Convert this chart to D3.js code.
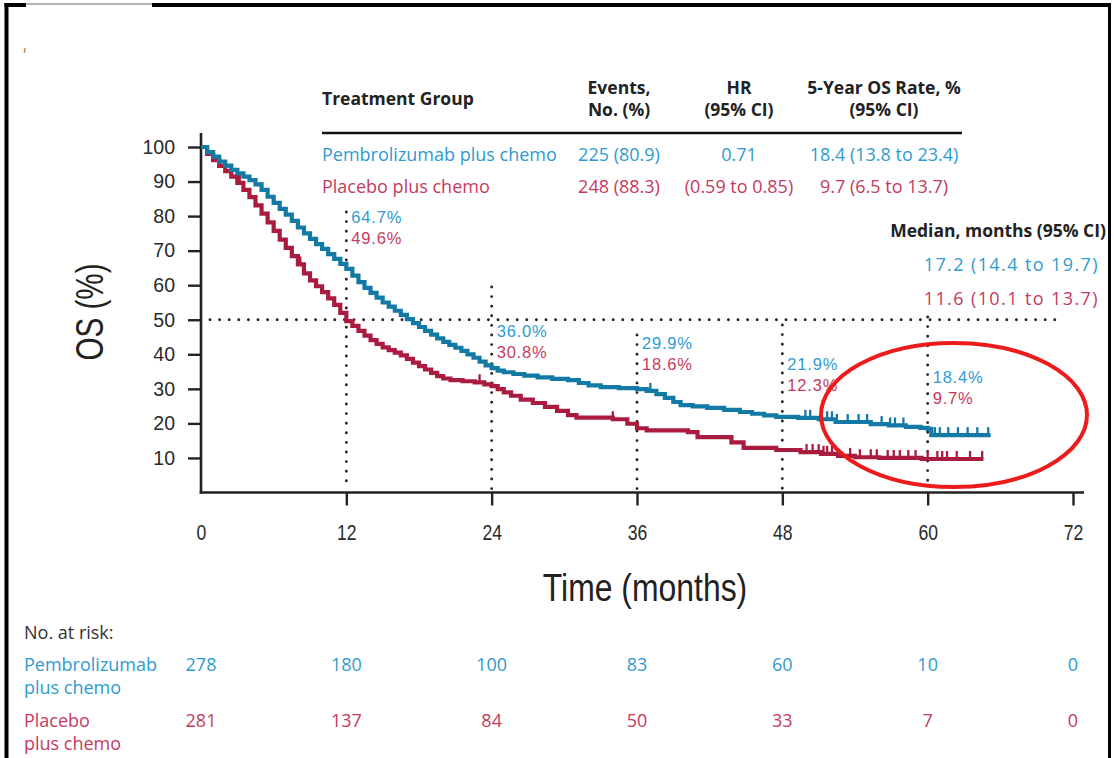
<!DOCTYPE html>
<html>
<head>
<meta charset="utf-8">
<script src="https://cdn.jsdelivr.net/npm/d3@7"></script>
<style>
  html, body { margin: 0; padding: 0; background: #fff; }
  svg { display: block; }
</style>
</head>
<body>
<svg id="chart" width="1114" height="758"></svg>
<script>
// Overall survival (Kaplan-Meier): pembrolizumab + chemo vs placebo + chemo

const groups = ["Pembrolizumab plus chemo", "Placebo plus chemo"];

// OS estimates (%) by month, read at each step of the curves
const pembroMonths = [0,0.5,1,1.5,2,2.5,3,3.5,4,4.5,5,5.5,6,6.5,7,7.5,8,8.5,9,9.5,10,10.5,11,11.5,12,12.5,13,13.5,14,14.5,15,15.5,16,16.5,17,17.5,18,18.5,19,19.5,20,20.5,21,21.5,22,22.5,23,23.5,24,24.5,25,25.8,26.7,27.8,29,30.3,31.2,32,33,34.5,36,36.8,37.6,38.3,39,39.6,40.6,41.8,43.2,44.5,45.5,46.5,47.5,49.3,51,52.4,55.3,56.8,58.2,59.4,60,60.3,65.2];
const pembroOS = [100,98.5,97.2,95.8,94.6,93.4,92.4,91.4,90.4,89.2,87.6,85.6,83.8,82.1,80.4,78.6,76.7,75.0,73.4,71.9,70.5,69.0,67.6,66.2,64.7,62.8,60.9,59.2,57.8,56.4,55.0,53.8,52.6,51.4,50.2,49.0,47.9,46.8,45.7,44.6,43.6,42.7,41.9,41.0,40.0,39.0,37.9,36.8,36.0,35.3,34.8,34.3,33.8,33.3,32.9,32.5,31.7,31.0,30.5,30.2,29.9,29.4,28.5,27.4,26.2,25.3,24.9,24.5,23.9,23.3,22.8,22.3,21.9,21.6,21.2,20.4,19.8,19.4,19.0,18.7,18.4,16.6,16.6];

const placeboMonths = [0,0.5,1,1.5,2,2.5,3,3.5,4,4.5,5,5.5,6,6.5,7,7.5,8,8.5,9,9.5,10,10.5,11,11.5,12,12.5,13,13.5,14,14.5,15,15.5,16,16.5,17,17.5,18,18.5,19,19.5,20,20.6,21.6,22.6,23.4,24,24.5,25,25.6,26.4,27.4,28.4,29.4,30.3,31,34,35.2,36,36.8,40.2,41,43.8,44.8,47.5,49.5,51.2,52.6,54,56,59.5,64.6];
const placeboOS = [100,98.0,96.2,94.5,93.0,91.4,89.6,87.6,85.5,83.1,80.7,78.2,75.7,73.2,70.8,68.4,66.0,63.4,61.4,59.7,58.0,56.2,54.3,52.0,49.6,48.2,46.8,45.4,44.1,43.0,42.0,41.2,40.5,39.7,38.7,37.6,36.6,35.6,34.6,33.7,33.0,32.5,32.2,31.9,31.3,30.8,29.9,29.0,28.0,26.9,25.9,24.8,23.6,22.4,21.7,21.2,19.9,18.6,18.0,17.5,16.0,14.5,12.9,12.3,11.7,11.2,10.6,10.2,10.0,9.7,9.7];

// Censored observations (months)
const pembroCensor = [37.1,49.9,50.3,51.7,52.1,52.5,53.4,54.3,55.0,56.2,56.9,57.3,58.0,60.6,61.0,61.7,62.5,63.3,64.1,65.0];
const placeboCensor = [3.2,8.2,23.0,34.0,50.0,50.5,51.0,51.4,51.7,52.1,52.6,53.6,54.4,55.3,55.8,56.7,57.2,57.7,58.4,59.0,60.0,60.8,61.2,61.6,62.4,63.5,64.5];

// Landmark OS rates (%)
const landmarkMonths = [12, 24, 36, 48, 60];
const pembroLandmark = [64.7, 36.0, 29.9, 21.9, 18.4];
const placeboLandmark = [49.6, 30.8, 18.6, 12.3, 9.7];

// Axes
const xTicks = [0, 12, 24, 36, 48, 60, 72];
const yTicks = [10, 20, 30, 40, 50, 60, 70, 80, 90, 100];

// Number at risk
const riskMonths = [0, 12, 24, 36, 48, 60, 72];
const pembroAtRisk = [278, 180, 100, 83, 60, 10, 0];
const placeboAtRisk = [281, 137, 84, 50, 33, 7, 0];

// Summary table
const tableColumns = [["Events,", "No. (%)"], ["HR", "(95% CI)"], ["5-Year OS Rate, %", "(95% CI)"]];
const eventsText = ["225 (80.9)", "248 (88.3)"];
const hrText = ["0.71", "(0.59 to 0.85)"];
const os5Text = ["18.4 (13.8 to 23.4)", "9.7 (6.5 to 13.7)"];
const medianTitle = "Median, months (95% CI)";
const medianText = ["17.2 (14.4 to 19.7)", "11.6 (10.1 to 13.7)"];

// ---------------------------------------------------------------
const lineColor = ["#137aa6", "#a91c3f"];
const textColor = ["#2e9bd0", "#c43a60"];
const ink = "#222";
const tableFont = "'Open Sans', 'Liberation Sans', Arial, sans-serif";
const axisFont = "'Liberation Sans', Arial, sans-serif";

const svg = d3.select("#chart");

const x = d3.scaleLinear().domain([0, 72]).range([201, 1073]);
const y = d3.scaleLinear().domain([0, 100]).range([492.5, 147]);

// page frame
svg.append("line").attr("x1", 6.5).attr("x2", 6.5).attr("y1", 3).attr("y2", 758)
  .attr("stroke", "#000").attr("stroke-width", 4);
svg.append("line").attr("x1", 1109.5).attr("x2", 1109.5).attr("y1", 3).attr("y2", 758)
  .attr("stroke", "#000").attr("stroke-width", 3);
svg.append("line").attr("x1", 4.5).attr("x2", 26).attr("y1", 5).attr("y2", 5)
  .attr("stroke", "#000").attr("stroke-width", 4);
svg.append("line").attr("x1", 26).attr("x2", 152).attr("y1", 4).attr("y2", 4)
  .attr("stroke", "#9a9a9a").attr("stroke-width", 1.5);
svg.append("line").attr("x1", 152).attr("x2", 1111).attr("y1", 5).attr("y2", 5)
  .attr("stroke", "#000").attr("stroke-width", 4);
svg.append("line").attr("x1", 25).attr("x2", 24.3).attr("y1", 48).attr("y2", 53)
  .attr("stroke", "#c98a3a").attr("stroke-width", 1.4);

// ---- axes
const yAxis = svg.append("g").attr("transform", `translate(${x(0)},0)`)
  .call(d3.axisLeft(y).tickValues(yTicks).tickSize(13).tickPadding(13));
yAxis.select(".domain").remove();
yAxis.selectAll(".tick line").attr("stroke", ink).attr("stroke-width", 2.4);
yAxis.selectAll(".tick text").attr("fill", "#2a2a2a")
  .style("font-family", axisFont).style("font-size", "19.5px");
svg.append("line").attr("x1", x(0)).attr("x2", x(0)).attr("y1", 133).attr("y2", y(0) + 1)
  .attr("stroke", ink).attr("stroke-width", 2.6);

const xAxis = svg.append("g").attr("transform", `translate(0,${y(0)})`)
  .call(d3.axisBottom(x).tickValues(xTicks).tickSize(13).tickPadding(19));
xAxis.select(".domain").remove();
xAxis.selectAll(".tick line").attr("stroke", ink).attr("stroke-width", 2.4)
  .attr("y2", d => d === 0 ? 0 : 13);
xAxis.selectAll(".tick text").attr("fill", "#2a2a2a")
  .style("font-family", axisFont).style("font-size", "22px")
  .attr("transform", "scale(0.8,1)");
svg.append("line").attr("x1", x(0) - 1.3).attr("x2", 1084).attr("y1", y(0)).attr("y2", y(0))
  .attr("stroke", ink).attr("stroke-width", 2.6);

svg.append("text")
  .attr("transform", `translate(${(x(0) + x(72)) / 2 + 8},601) scale(0.84,1)`)
  .attr("text-anchor", "middle").attr("fill", "#222")
  .style("font-family", axisFont).style("font-size", "38px")
  .text("Time (months)");
svg.append("text")
  .attr("transform", "translate(103,312) rotate(-90) scale(0.78,1)")
  .attr("text-anchor", "middle").attr("fill", "#222")
  .style("font-family", axisFont).style("font-size", "38px")
  .text("OS (%)");

// ---- reference dotted lines
const dotted = sel => sel.attr("stroke", "#222").attr("stroke-width", 2.9)
  .attr("stroke-linecap", "round").attr("stroke-dasharray", "0 9.6").attr("fill", "none");
svg.append("line").attr("x1", 210).attr("x2", 1062).attr("y1", y(50)).attr("y2", y(50)).call(dotted);
const dropTop = [212, 287, 335, 325, 317];
landmarkMonths.forEach((m, i) => {
  svg.append("line").attr("x1", x(m)).attr("x2", x(m))
    .attr("y1", dropTop[i]).attr("y2", y(0) - 3).call(dotted);
});

// ---- survival curves
const series = [
  { months: pembroMonths, os: pembroOS, censor: pembroCensor },
  { months: placeboMonths, os: placeboOS, censor: placeboCensor }
];
const line = d3.line().x(d => x(d[0])).y(d => y(d[1])).curve(d3.curveStepAfter);

// draw placebo first so pembrolizumab sits on top where they overlap
[1, 0].forEach(g => {
  const s = series[g];
  const pts = s.months.map((m, i) => [m, s.os[i]]);
  svg.append("path").datum(pts).attr("d", line)
    .attr("fill", "none").attr("stroke", lineColor[g]).attr("stroke-width", 4.2)
    .attr("stroke-linejoin", "miter");
  const at = t => s.os[Math.max(0, d3.bisectRight(s.months, t) - 1)];
  svg.append("g").selectAll("line").data(s.censor).join("line")
    .attr("x1", d => x(d)).attr("x2", d => x(d))
    .attr("y1", d => y(at(d))).attr("y2", d => y(at(d)) - 8)
    .attr("stroke", lineColor[g]).attr("stroke-width", 2.3);
});

// ---- landmark labels
const labelTop = [223, 337, 349, 370, 383];
landmarkMonths.forEach((m, i) => {
  [pembroLandmark, placeboLandmark].forEach((vals, g) => {
    svg.append("text").attr("x", x(m) + 5).attr("y", labelTop[i] + g * 20.5)
      .attr("fill", textColor[g])
      .style("font-family", axisFont).style("font-size", "16.5px")
      .style("letter-spacing", "0.8px")
      .text(vals[i].toFixed(1) + "%");
  });
});

// ---- highlight ellipse
svg.append("ellipse").attr("cx", 954).attr("cy", 415).attr("rx", 133).attr("ry", 72)
  .attr("fill", "none").attr("stroke", "#ec1c1c").attr("stroke-width", 4);

// ---- summary table
const tbl = svg.append("g").style("font-family", tableFont);
tbl.append("text").attr("x", 322).attr("y", 105).attr("fill", "#222")
  .style("font-weight", "bold").style("font-size", "17.5px").text("Treatment Group");
const colX = [619, 739, 884];
tableColumns.forEach((lines, c) => {
  lines.forEach((t, k) => {
    tbl.append("text").attr("x", colX[c]).attr("y", 94 + k * 22).attr("text-anchor", "middle")
      .attr("fill", "#222").style("font-weight", "bold").style("font-size", "17.5px").text(t);
  });
});
tbl.append("line").attr("x1", 322).attr("x2", 962).attr("y1", 133).attr("y2", 133)
  .attr("stroke", "#111").attr("stroke-width", 2.6);
groups.forEach((name, g) => {
  const by = 161 + g * 32;
  const row = [[name, 322, "start"], [eventsText[g], colX[0], "middle"],
               [hrText[g], colX[1], "middle"], [os5Text[g], colX[2], "middle"]];
  row.forEach(([t, px, anchor]) => {
    tbl.append("text").attr("x", px).attr("y", by).attr("text-anchor", anchor)
      .attr("fill", textColor[g]).style("font-size", "18px").text(t);
  });
});

// ---- median annotation
tbl.append("text").attr("x", 1106).attr("y", 237).attr("text-anchor", "end")
  .attr("fill", "#222").style("font-weight", "bold").style("font-size", "17.5px").text(medianTitle);
medianText.forEach((t, g) => {
  tbl.append("text").attr("x", 1099).attr("y", 271 + g * 34).attr("text-anchor", "end")
    .attr("fill", textColor[g]).style("font-size", "18px").style("letter-spacing", "1.4px").text(t);
});

// ---- number at risk
const risk = svg.append("g").style("font-family", tableFont).style("font-size", "18px");
risk.append("text").attr("x", 24).attr("y", 639).attr("fill", "#333").text("No. at risk:");
const riskNames = [["Pembrolizumab", "plus chemo"], ["Placebo", "plus chemo"]];
[pembroAtRisk, placeboAtRisk].forEach((vals, g) => {
  const by = 671 + g * 56;
  riskNames[g].forEach((t, k) => {
    risk.append("text").attr("x", 24).attr("y", by + k * 23).attr("fill", textColor[g]).text(t);
  });
  risk.selectAll(null).data(riskMonths).join("text")
    .attr("x", d => x(d)).attr("y", by).attr("text-anchor", "middle")
    .attr("fill", textColor[g]).text((d, i) => vals[i]);
});
</script>
</body>
</html>
